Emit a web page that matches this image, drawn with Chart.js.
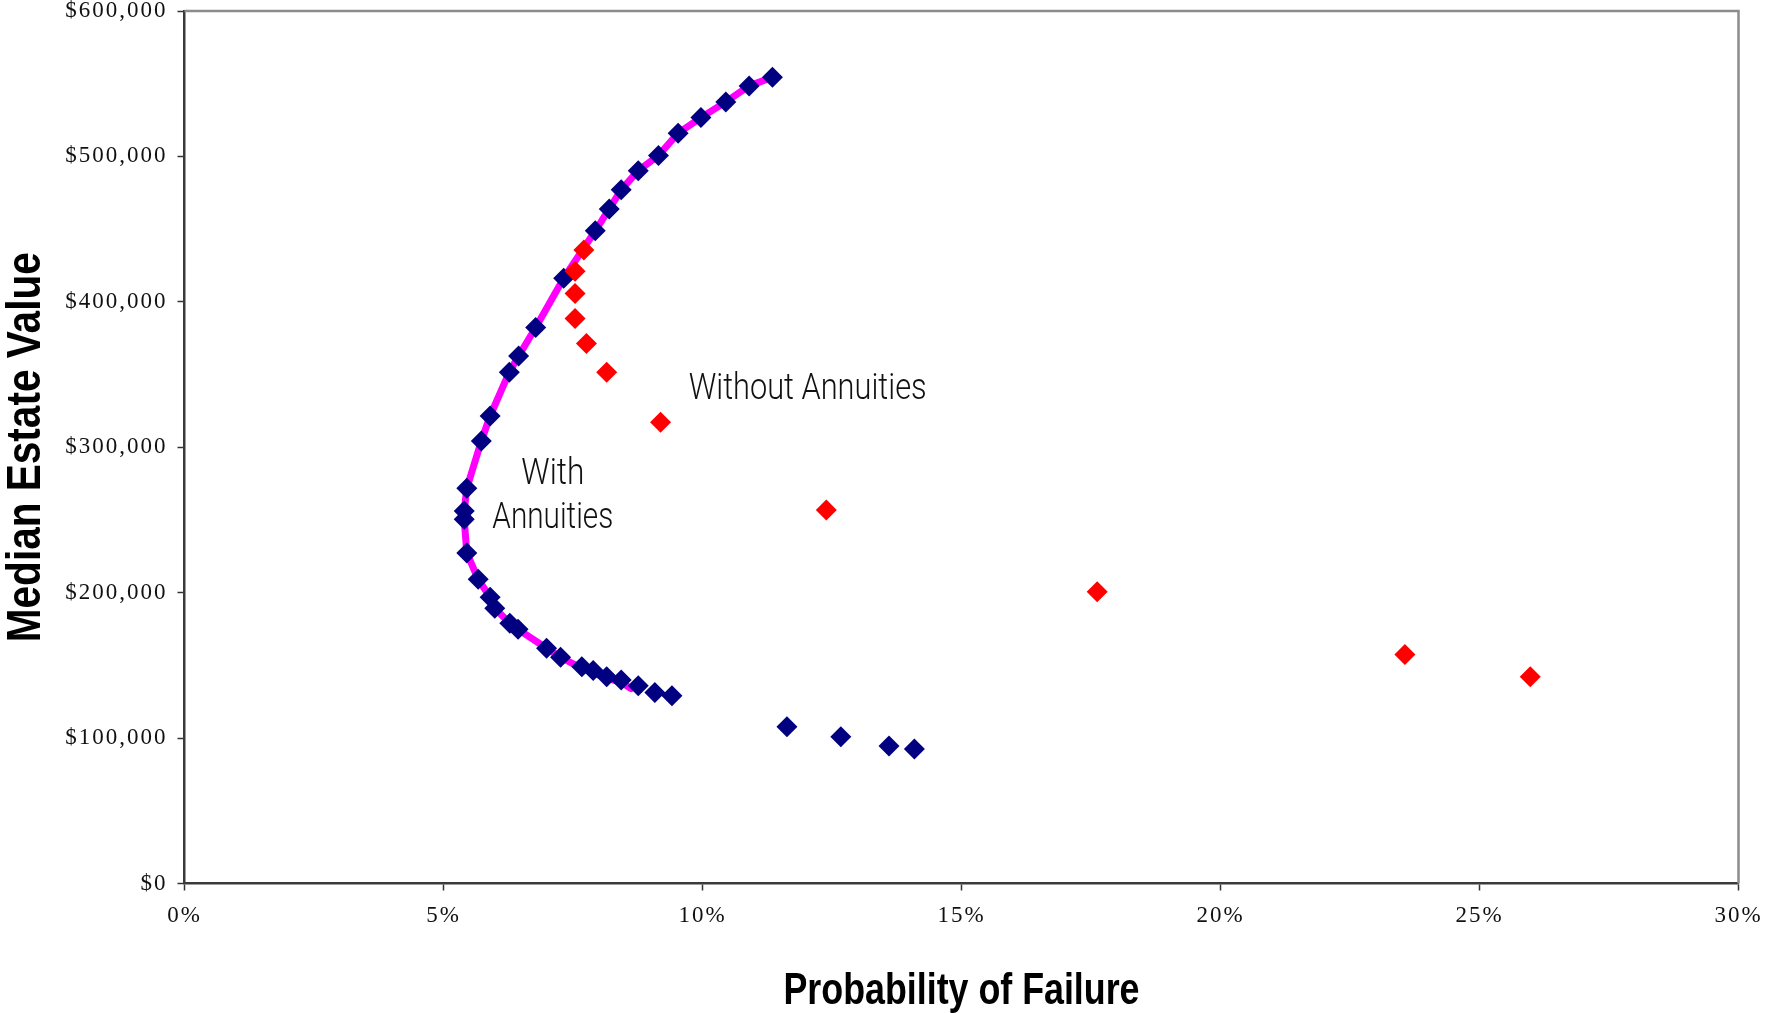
<!DOCTYPE html>
<html>
<head>
<meta charset="utf-8">
<title>Median Estate Value vs Probability of Failure</title>
<script src="https://cdn.jsdelivr.net/npm/chart.js@4.4.1/dist/chart.umd.min.js"></script>
<style>
  html, body { margin: 0; padding: 0; background: #fff; }
  #wrap { width: 1770px; height: 1013px; }
</style>
</head>
<body>
<div id="wrap"><canvas id="chart" width="1770" height="1013"></canvas></div>
<script>
// x = probability of failure (%), y = median estate value ($)
const withAnnX = [11.35, 10.90, 10.45, 9.97, 9.53, 9.15, 8.76, 8.43, 8.20, 7.93,
  7.32, 6.78, 6.45, 6.27, 5.90, 5.73, 5.45, 5.40, 5.40, 5.45,
  5.67, 5.90, 5.99, 6.28, 6.44, 6.99, 7.26, 7.67, 7.89, 8.15,
  8.43, 8.76, 9.08, 9.41, 11.63, 12.67, 13.60, 14.09];
const withAnnY = [554500, 548500, 537500, 526700, 516000, 500600, 490200, 477000, 463900, 448800,
  416200, 382400, 362800, 351600, 321500, 304300, 271800, 256200, 250500, 227300,
  209200, 196800, 189300, 179000, 174800, 161800, 155600, 149100, 146400, 142200,
  140000, 136000, 131400, 129100, 107800, 101000, 94600, 92500];

const withoutAnnX = [7.71, 7.54, 7.54, 7.54, 7.76, 8.15, 9.19, 12.39, 17.62, 23.56, 25.98];
const withoutAnnY = [435700, 421000, 405800, 388600, 371400, 351600, 317200, 256900, 200700, 157400, 142200];

// frontier drawn through the "with annuities" mixes
const frontierX = [11.35, 10.90, 10.45, 9.97, 9.53, 9.15, 8.76, 8.43, 8.20, 7.93,
  7.32, 6.78, 6.45, 6.27, 5.90, 5.73, 5.45, 5.40, 5.40, 5.45,
  5.67, 5.90, 5.99, 6.28, 6.44, 6.99, 7.26, 7.67, 7.89, 8.15, 8.43, 8.62];
const frontierY = [554500, 548500, 537500, 526700, 516000, 500600, 490200, 477000, 463900, 448800,
  416200, 382400, 362800, 351600, 321500, 304300, 271800, 256200, 250500, 227300,
  209200, 196800, 189300, 179000, 174800, 161800, 155600, 148000, 145000, 141000, 138500, 134000];

const xTicks = [0, 5, 10, 15, 20, 25, 30];
const yTicks = [0, 100000, 200000, 300000, 400000, 500000, 600000];

const xTitle = 'Probability of Failure';
const yTitle = 'Median Estate Value';
const notes = [
  { text: 'Without Annuities', x: 12.03, y: 333000, w: 238 },
  { text: 'With', x: 7.11, y: 274800, w: 63 },
  { text: 'Annuities', x: 7.11, y: 244300, w: 121 }
];

function pts(xs, ys) {
  return xs.map((x, i) => ({ x: x, y: ys[i] }));
}

// squeeze text horizontally to a given width (condensed faces are not installed)
function squeezed(ctx, text, x, y, font, width) {
  ctx.save();
  ctx.font = font;
  const k = width / ctx.measureText(text).width;
  ctx.translate(x, y);
  ctx.scale(k, 1);
  ctx.fillText(text, 0, 0);
  ctx.restore();
}

const framePlugin = {
  id: 'frame',
  beforeDraw(chart) {
    chart.ctx.letterSpacing = '2px';
  },
  beforeDatasetsDraw(chart) {
    const a = chart.chartArea, ctx = chart.ctx;
    ctx.save();
    ctx.strokeStyle = '#8c8c8c';
    ctx.lineWidth = 2.5;
    ctx.beginPath();
    ctx.moveTo(a.left, a.top);
    ctx.lineTo(a.right, a.top);
    ctx.lineTo(a.right, a.bottom);
    ctx.stroke();
    ctx.restore();
  },
  afterDraw(chart) {
    const a = chart.chartArea, ctx = chart.ctx;
    const sx = chart.scales.x, sy = chart.scales.y;
    ctx.save();
    ctx.letterSpacing = '0px';
    ctx.fillStyle = '#000';
    ctx.textAlign = 'center';
    ctx.textBaseline = 'alphabetic';
    squeezed(ctx, xTitle, (a.left + a.right) / 2, 1004, 'bold 45px "Liberation Sans"', 356);
    ctx.save();
    ctx.translate(40, (a.top + a.bottom) / 2);
    ctx.rotate(-Math.PI / 2);
    squeezed(ctx, yTitle, 0, 0, 'bold 48px "Liberation Sans"', 390);
    ctx.restore();
    ctx.fillStyle = '#111';
    notes.forEach(n => {
      squeezed(ctx, n.text, sx.getPixelForValue(n.x), sy.getPixelForValue(n.y), '300 36px Roboto', n.w);
    });
    ctx.restore();
  }
};

const tickFont = { family: '"Liberation Serif", "Times New Roman", serif', size: 23 };

new Chart(document.getElementById('chart'), {
  type: 'scatter',
  data: {
    datasets: [
      {
        label: 'Without Annuities',
        data: pts(withoutAnnX, withoutAnnY),
        pointStyle: 'rectRot',
        pointRadius: 10.5,
        backgroundColor: '#ff0000',
        borderColor: '#ff0000',
        borderWidth: 0,
        order: 0
      },
      {
        label: 'With Annuities',
        data: pts(withAnnX, withAnnY),
        pointStyle: 'rectRot',
        pointRadius: 10.5,
        backgroundColor: '#000080',
        borderColor: '#000080',
        borderWidth: 0,
        order: 1
      },
      {
        label: 'Frontier',
        data: pts(frontierX, frontierY),
        showLine: true,
        pointRadius: 0,
        borderColor: '#ff00ff',
        borderWidth: 7,
        borderJoinStyle: 'round',
        borderCapStyle: 'round',
        tension: 0,
        order: 2
      }
    ]
  },
  options: {
    responsive: false,
    animation: false,
    events: [],
    layout: { padding: { left: 0, top: 11, right: 31.5, bottom: 0 } },
    plugins: { legend: { display: false }, tooltip: { enabled: false } },
    scales: {
      x: {
        type: 'linear',
        min: 0,
        max: 30,
        afterBuildTicks: s => { s.ticks = xTicks.map(v => ({ value: v })); },
        afterFit: s => { s.height = 129.5; s.paddingLeft = 0; s.paddingRight = 0; },
        ticks: {
          color: '#111',
          font: tickFont,
          padding: 12,
          maxRotation: 0,
          callback: v => v + '%'
        },
        grid: { drawOnChartArea: false, drawTicks: true, tickLength: 7, tickColor: '#333', tickWidth: 1.5 },
        border: { display: true, color: '#3a3a3a', width: 2.5 }
      },
      y: {
        type: 'linear',
        min: 0,
        max: 600000,
        afterBuildTicks: s => { s.ticks = yTicks.map(v => ({ value: v })); },
        afterFit: s => { s.width = 184.5; s.paddingTop = 0; s.paddingBottom = 0; },
        ticks: {
          color: '#111',
          font: tickFont,
          padding: 10,
          callback: v => '$' + v.toLocaleString('en-US')
        },
        grid: { drawOnChartArea: false, drawTicks: true, tickLength: 7, tickColor: '#333', tickWidth: 1.5 },
        border: { display: true, color: '#3a3a3a', width: 2.5 }
      }
    }
  },
  plugins: [framePlugin]
});
</script>
</body>
</html>
